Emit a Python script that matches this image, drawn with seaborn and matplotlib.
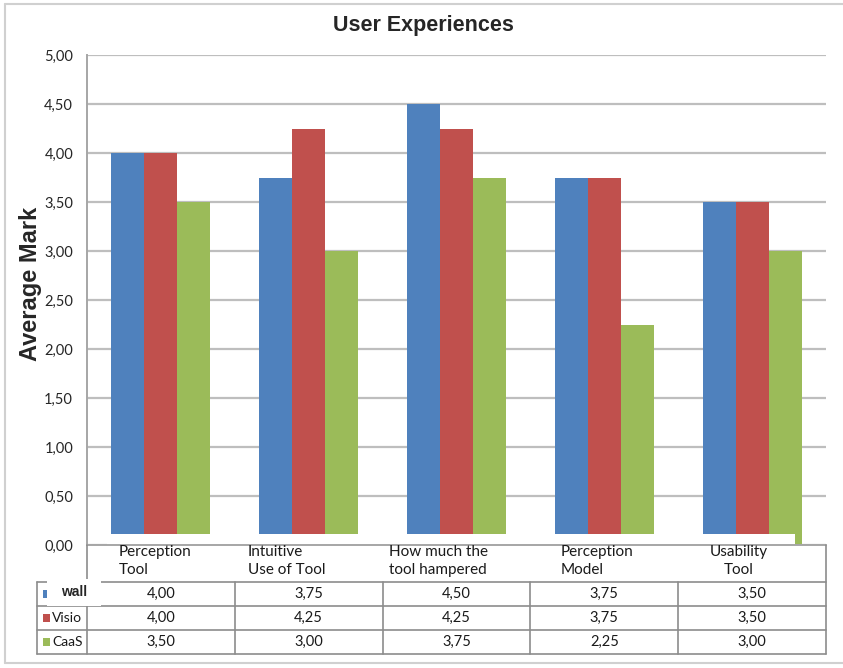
import matplotlib
matplotlib.use("Agg")
import matplotlib.pyplot as plt
import matplotlib.patches as mpatches
import seaborn as sns
import pandas as pd

# Survey results: average mark per question and tool
categories = ["Perception\nTool", "Intuitive\nUse of Tool", "How much the\ntool hampered",
              "Perception\nModel", "Usability\nTool"]
series_names = ["wall", "Visio", "CaaS"]
wall = [4.00, 3.75, 4.50, 3.75, 3.50]
visio = [4.00, 4.25, 4.25, 3.75, 3.50]
caas = [3.50, 3.00, 3.75, 2.25, 3.00]
y_ticks = [0.0, 0.5, 1.0, 1.5, 2.0, 2.5, 3.0, 3.5, 4.0, 4.5, 5.0]

colors = ["#4F81BD", "#C0504D", "#9BBB59"]
series_values = [wall, visio, caas]

df = pd.DataFrame({
    "category": categories * 3,
    "series": [s for s in series_names for _ in categories],
    "value": wall + visio + caas,
})

sns.set_theme(style="white")
plt.rcParams["font.family"] = ["Lato", "DejaVu Sans"]

W, H = 843, 668
fig = plt.figure(figsize=(W / 100, H / 100), dpi=100)

# pixel-space helpers for the main plot area
px_left, px_right, px_top, px_bottom = 87, 826, 55, 545
ax = fig.add_axes([px_left / W, 1 - px_bottom / H,
                   (px_right - px_left) / W, (px_bottom - px_top) / H])

sns.barplot(data=df, x="category", y="value", hue="series", palette=colors,
            hue_order=series_names, order=categories, width=0.67, saturation=1,
            legend=False, ax=ax, edgecolor="none", linewidth=0)

ax.set_ylim(0, 5)
ax.set_xlim(-0.5, len(categories) - 0.5)
ax.set_yticks(y_ticks)
ax.set_yticklabels([f"{t:.2f}".replace(".", ",") for t in y_ticks],
                   fontsize=10.5, color="#262626")
ax.tick_params(axis="y", length=0, pad=10)
ax.set_xticks([])
ax.set_xlabel("")
ax.set_ylabel("")
ax.grid(axis="y", color="#BEBEBE", linewidth=1.6)
ax.set_axisbelow(True)
for side in ["top", "right", "bottom"]:
    ax.spines[side].set_visible(False)
ax.spines["left"].set_color("#A6A6A6")
ax.spines["left"].set_linewidth(1.4)

fig.text(423 / W, 1 - 25 / H, "User Experiences", ha="center", va="center",
         fontsize=15.5, fontweight="bold", family=["Liberation Sans", "DejaVu Sans"])
fig.text(30 / W, 1 - 284 / H, "Average Mark", ha="center", va="center",
         rotation=90, fontsize=17, fontweight="bold",
         family=["Liberation Sans", "DejaVu Sans"])

# overlay in pixel coordinates for the data table and frame
ov = fig.add_axes([0, 0, 1, 1], zorder=5)
ov.set_xlim(0, W)
ov.set_ylim(H, 0)
ov.axis("off")
ov.patch.set_alpha(0)

line_kw = dict(color="#8C8C8C", linewidth=1.2)
frame_kw = dict(color="#D0D0D0", linewidth=1.5)

# outer frame
ov.plot([5, 5], [4, 663], **frame_kw)
ov.plot([5, W], [4, 4], **frame_kw)
ov.plot([5, W], [663, 663], **frame_kw)

# x baseline and table grid
ov.plot([px_left, px_right], [545, 545], color="#A6A6A6", linewidth=1.4)
row_lines = [582, 606, 630, 654]
for yl in row_lines:
    ov.plot([37, px_right], [yl, yl], **line_kw)
ov.plot([37, 37], [582, 654], **line_kw)
ov.plot([px_left, px_left], [545, 654], **line_kw)
ov.plot([px_right, px_right], [545, 654], **line_kw)
col_w = (px_right - px_left) / len(categories)
for i in range(1, len(categories)):
    xc = px_left + i * col_w
    ov.plot([xc, xc], [582, 654], **line_kw)

# white header band carrying the category names
ov.add_patch(mpatches.Rectangle((107, 534), 688, 52, facecolor="white",
                                edgecolor="none"))
label_shift = [-6, -22, -18, -7, -13]
for i, cat in enumerate(categories):
    xc = px_left + (i + 0.5) * col_w + label_shift[i]
    ov.text(xc, 561, cat, ha="center", va="center", fontsize=11,
            color="#1A1A1A", linespacing=1.45,
            multialignment="center" if i == len(categories) - 1 else "left")

# table values
row_centers = [594, 618, 642]
for r, (name, vals) in enumerate(zip(series_names, series_values)):
    for i, v in enumerate(vals):
        xc = px_left + (i + 0.5) * col_w
        ov.text(xc, row_centers[r], f"{v:.2f}".replace(".", ","), ha="center",
                va="center", fontsize=10.5, color="#1A1A1A")
    ov.add_patch(mpatches.Rectangle((43, row_centers[r] - 4), 7, 8,
                                    facecolor=colors[r], edgecolor="none"))

# legend keys
ov.add_patch(mpatches.Rectangle((47, 579), 54, 27, facecolor="white",
                                edgecolor="none", zorder=3))
ov.text(61, 592, series_names[0], ha="left", va="center", fontsize=10,
        fontweight="bold", family=["Liberation Sans", "DejaVu Sans"], zorder=4)
for r in (1, 2):
    ov.text(52, row_centers[r], series_names[r], ha="left", va="center",
            fontsize=10, color="#1A1A1A")

fig.savefig("out.png", dpi=100)
